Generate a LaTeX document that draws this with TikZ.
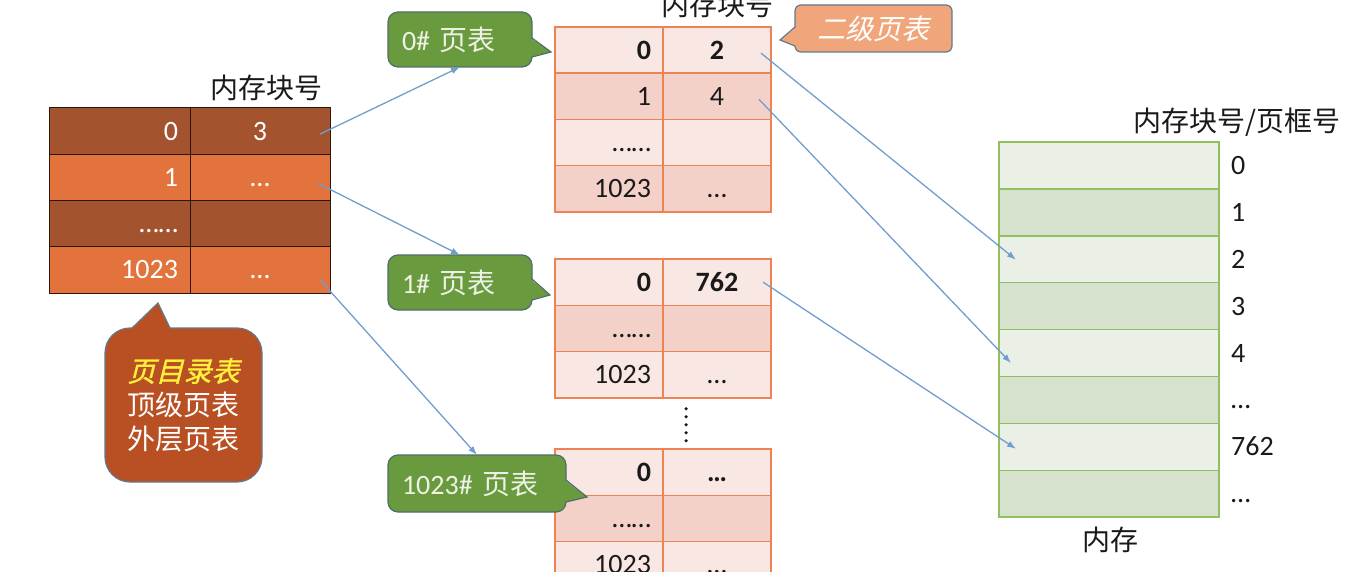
\documentclass[tikz,border=0pt]{standalone}
\usepackage{fontspec}
\setmainfont{Carlito}
\newfontfamily\cjk{Noto Sans CJK SC}
\newfontfamily\cjkit{Noto Sans CJK SC}[FakeSlant=0.25]
\newfontfamily\cjkitb{Noto Sans CJK SC}[FakeSlant=0.25,FakeBold=1.2]
\usetikzlibrary{arrows.meta,calc}
\newcommand\fsz{\fontsize{28}{34}\selectfont}
\definecolor{od}{RGB}{163,84,46}
\definecolor{ol}{RGB}{226,115,60}
\definecolor{tb}{RGB}{45,22,12}
\definecolor{pl}{RGB}{249,231,227}
\definecolor{pd}{RGB}{243,209,200}
\definecolor{pb}{RGB}{237,130,84}
\definecolor{gl}{RGB}{234,240,229}
\definecolor{gd}{RGB}{214,225,206}
\definecolor{gb}{RGB}{146,192,96}
\definecolor{cg}{RGB}{106,154,62}
\definecolor{gbd}{RGB}{80,110,105}
\definecolor{callt}{RGB}{238,242,230}
\definecolor{co}{RGB}{240,166,122}
\definecolor{cdir}{RGB}{184,80,36}
\definecolor{cbd}{RGB}{100,120,140}
\definecolor{yel}{RGB}{255,240,60}
\definecolor{arrc}{RGB}{112,158,206}
\definecolor{ink}{RGB}{25,25,25}
\begin{document}
\begin{tikzpicture}[x=1pt,y=-1pt,
  base/.style={inner ysep=0pt, outer sep=0pt, minimum height=46.25pt, anchor=north west,
    font=\fsz, text height=18pt, text depth=0pt},
  tl/.style={base, draw=tb, line width=1pt, text width=117pt, inner xsep=12pt, align=right, text=white},
  tr/.style={base, draw=tb, line width=1pt, text width=116pt, inner xsep=12pt, align=center, text=white},
  sl/.style={base, draw=pb, line width=1.5pt, text width=84pt, inner xsep=12pt, align=right, text=ink},
  sr/.style={base, draw=pb, line width=1.5pt, text width=84pt, inner xsep=12pt, align=center, text=ink},
  mem/.style={draw=gb, line width=1.5pt, minimum width=220pt, minimum height=46.9pt,
    anchor=north west, inner sep=0pt, outer sep=0pt},
  mlab/.style={anchor=base west, font=\fsz, inner sep=0pt, text=ink},
  ttl/.style={font=\cjk\fsz, inner sep=0pt, text=ink},
  gcall/.style={draw=gbd, fill=cg, line width=1.2pt, rounded corners=10pt, anchor=north west,
    outer sep=0pt, text=callt, font=\fsz, align=left, inner xsep=14pt, inner ysep=0pt},
  arr/.style={draw=arrc, line width=1.3pt, -{Latex[length=9pt,width=6.5pt]}},
  ptr/.style={draw=#1, line width=1.2pt, line join=miter}
]
\useasboundingbox (0,0) rectangle (1359,572);

% top-level page directory table
\node[tl, fill=od] (a0l) at (49,108) {0};
\node[tr, fill=od] (a0r) at (a0l.north east) {3};
\node[tl, fill=ol] (a1l) at (a0l.south west) {1};
\node[tr, fill=ol] (a1r) at (a1l.north east) {…};
\node[tl, fill=od] (a2l) at (a1l.south west) {……};
\node[tr, fill=od] (a2r) at (a2l.north east) {};
\node[tl, fill=ol] (a3l) at (a2l.south west) {1023};
\node[tr, fill=ol] (a3r) at (a3l.north east) {…};

% page table 0
\node[sl, fill=pl] (p0r0l) at (555,27) {\textbf{0}};
\node[sr, fill=pl] (p0r0r) at (p0r0l.north east) {\textbf{2}};
\node[sl, fill=pd] (p0r1l) at (p0r0l.south west) {1};
\node[sr, fill=pd] (p0r1r) at (p0r1l.north east) {4};
\node[sl, fill=pl] (p0r2l) at (p0r1l.south west) {……};
\node[sr, fill=pl] (p0r2r) at (p0r2l.north east) {};
\node[sl, fill=pd] (p0r3l) at (p0r2l.south west) {1023};
\node[sr, fill=pd] (p0r3r) at (p0r3l.north east) {…};

% page table 1
\node[sl, fill=pl] (p1r0l) at (555,259) {\textbf{0}};
\node[sr, fill=pl] (p1r0r) at (p1r0l.north east) {\textbf{762}};
\node[sl, fill=pd] (p1r1l) at (p1r0l.south west) {……};
\node[sr, fill=pd] (p1r1r) at (p1r1l.north east) {};
\node[sl, fill=pl] (p1r2l) at (p1r1l.south west) {1023};
\node[sr, fill=pl] (p1r2r) at (p1r2l.north east) {…};

% page table 1023
\node[sl, fill=pl] (p2r0l) at (555,449) {\textbf{0}};
\node[sr, fill=pl] (p2r0r) at (p2r0l.north east) {\textbf{…}};
\node[sl, fill=pd] (p2r1l) at (p2r0l.south west) {……};
\node[sr, fill=pd] (p2r1r) at (p2r1l.north east) {};
\node[sl, fill=pl] (p2r2l) at (p2r1l.south west) {1023};
\node[sr, fill=pl] (p2r2r) at (p2r2l.north east) {…};

% vertical dots between tables
\coordinate (vd) at ($(p1r2l.south east)+(23,11)$);
\draw[ink, line width=3.5pt, line cap=round, dash pattern=on 0pt off 8pt] (vd) -- ++(0,33);

% memory
\foreach \i/\c in {0/gl,1/gd,2/gl,3/gd,4/gl,5/gd,6/gl,7/gd}
  \node[mem, fill=\c] (m\i) at (999,{142+46.9*\i}) {};
\foreach \i/\t in {0/0,1/1,2/2,3/3,4/4,5/…,6/762,7/…}
  \node[mlab] (ml\i) at ($(m\i.east)+(12,9)$) {\t};

% titles
\node[ttl] (t1) at (266,88) {内存块号};
\node[ttl] (t2) at (717,5) {内存块号};
\node[ttl] (t3) at (1237,122) {内存块号/页框号};
\node[ttl] (t4) at (1110,540) {内存};

% page directory callout
\node[draw=cbd, fill=cdir, line width=1.2pt, rounded corners=25pt, minimum width=157pt,
  minimum height=154pt, anchor=north west, outer sep=0pt, align=center, font=\fsz,
  text=white, inner sep=0pt] (dir) at (105,328)
  {{\cjkitb\color{yel}页目录表}\\{\cjk 顶级页表}\\{\cjk 外层页表}};
\fill[cdir] (131,329.6) -- (158,303) -- (171,329.6) -- cycle;
\draw[ptr=cbd] (132,328) -- (158,303) -- (170,328);

% green callouts
\node[gcall, minimum width=144pt, minimum height=55pt, text width=116pt] (c0) at (388,12) {0\# {\cjk 页表}};
\fill[cg] (530.4,38) -- (551,52) -- (530.4,57) -- cycle;
\draw[ptr=gbd] (532,38) -- (551,52) -- (532,57);

\node[gcall, minimum width=144pt, minimum height=55pt, text width=116pt] (c1) at (388,255) {1\# {\cjk 页表}};
\fill[cg] (530.4,279) -- (550,295) -- (530.4,300) -- cycle;
\draw[ptr=gbd] (532,279) -- (550,295) -- (532,300);

\node[gcall, minimum width=178pt, minimum height=57pt, text width=150pt] (c2) at (388,455) {1023\# {\cjk 页表}};
\fill[cg] (564.4,480) -- (587,497) -- (564.4,502) -- cycle;
\draw[ptr=gbd] (566,480) -- (587,497) -- (566,502);

% second-level label callout
\node[draw=cbd, fill=co, rounded corners=6pt, line width=1.2pt, minimum width=157pt,
  minimum height=47pt, anchor=north west, outer sep=0pt, inner sep=0pt,
  font=\cjkit\fsz, text=white] (c3) at (795,5) {二级页表};
\fill[co] (796.6,27) -- (780,40) -- (796.6,46) -- cycle;
\draw[ptr=cbd] (795,27) -- (780,40) -- (795,46);

% arrows
\draw[arr] ([xshift=-10pt,yshift=-3pt]a0r.east) -- (c0.south);
\draw[arr] ([xshift=-12pt,yshift=-6pt]a1r.east) -- (c1.north);
\draw[arr] ([xshift=-10pt,yshift=-10pt]a3r.east) -- (c2.north);
\draw[arr] ([xshift=-10pt,yshift=-3pt]p0r0r.east) -- ([xshift=17pt,yshift=-0.5pt]m2.west);
\draw[arr] ([xshift=-12pt,yshift=-3pt]p0r1r.east) -- ([xshift=12pt,yshift=-10pt]m4.west);
\draw[arr] ([xshift=-8pt]p1r0r.east) -- ([xshift=17pt,yshift=-2pt]m6.west);
\end{tikzpicture}
\end{document}
